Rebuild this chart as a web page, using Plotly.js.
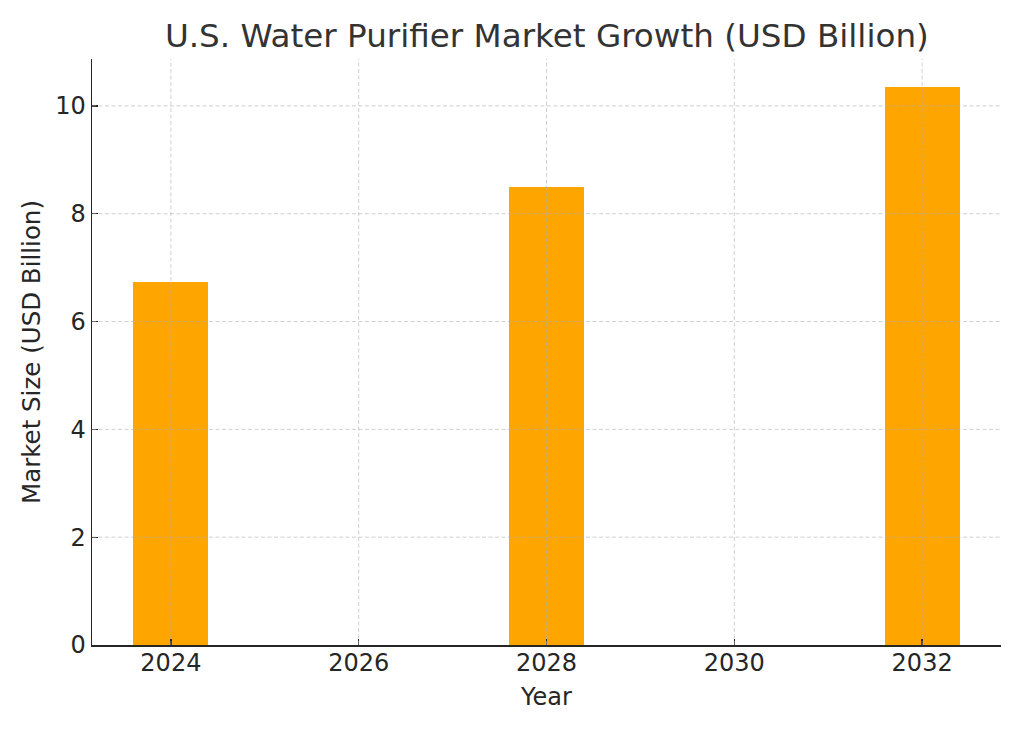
<!DOCTYPE html>
<html>
<head>
<meta charset="utf-8">
<script src="https://cdn.plot.ly/plotly-3.0.1.min.js"></script>
<style>html,body{margin:0;padding:0;background:#fff;}#chart{width:1024px;height:731px;}</style>
</head>
<body>
<div id="chart"></div>
<script>
const years = [2024, 2028, 2032];
const marketSize = [6.74, 8.5, 10.35];
const xTicks = [2024, 2026, 2028, 2030, 2032];
const yTicks = [0, 2, 4, 6, 8, 10];

const gridStyle = {color: 'rgba(176,176,176,0.6)', width: 1, dash: '4px,2.5px'};
const shapes = [];
xTicks.forEach(v => shapes.push({type: 'line', layer: 'above', xref: 'x', yref: 'paper', x0: v, x1: v, y0: 0, y1: 1, line: gridStyle}));
yTicks.filter(v => v > 0).forEach(v => shapes.push({type: 'line', layer: 'above', xref: 'paper', yref: 'y', x0: 0, x1: 1, y0: v, y1: v, line: gridStyle}));

const trace = {
  type: 'bar',
  x: years,
  y: marketSize,
  width: 0.8,
  marker: {color: '#FFA500', line: {width: 0}},
  hoverinfo: 'x+y'
};

const layout = {
  width: 1024, height: 731,
  margin: {l: 92, r: 23, t: 59, b: 86, pad: 0},
  paper_bgcolor: '#ffffff',
  plot_bgcolor: '#ffffff',
  showlegend: false,
  font: {family: 'DejaVu Sans, sans-serif', size: 24, color: '#262626'},
  title: {text: 'U.S. Water Purifier Market Growth (USD Billion)', font: {family: 'DejaVu Sans, sans-serif', size: 32.6, color: '#333333'}, x: 0.534, xanchor: 'center', y: 0.951, yanchor: 'middle'},
  xaxis: {
    range: [2023.16, 2032.84],
    tickvals: xTicks,
    ticktext: xTicks.map(String),
    ticks: 'inside', ticklen: 6, tickwidth: 1.3, tickcolor: '#262626',
    showline: true, linecolor: '#262626', linewidth: 1.5,
    showgrid: false, zeroline: false,
    layer: 'above traces',
    ticklabelstandoff: -4,
    tickfont: {family: 'DejaVu Sans, sans-serif', size: 24, color: '#262626'},
    title: {text: 'Year', font: {family: 'DejaVu Sans, sans-serif', size: 24, color: '#262626'}, standoff: 12}
  },
  yaxis: {
    range: [0, 10.87],
    tickvals: yTicks,
    ticks: 'inside', ticklen: 6, tickwidth: 1.3, tickcolor: '#262626',
    showline: true, linecolor: '#262626', linewidth: 1.5,
    showgrid: false, zeroline: false,
    layer: 'above traces',
    tickfont: {family: 'DejaVu Sans, sans-serif', size: 24, color: '#262626'},
    title: {text: 'Market Size (USD Billion)', font: {family: 'DejaVu Sans, sans-serif', size: 24.5, color: '#262626'}, standoff: 7}
  },
  shapes: shapes,
  bargap: 0
};

Plotly.newPlot('chart', [trace], layout, {displayModeBar: false, staticPlot: true});
</script>
</body>
</html>
